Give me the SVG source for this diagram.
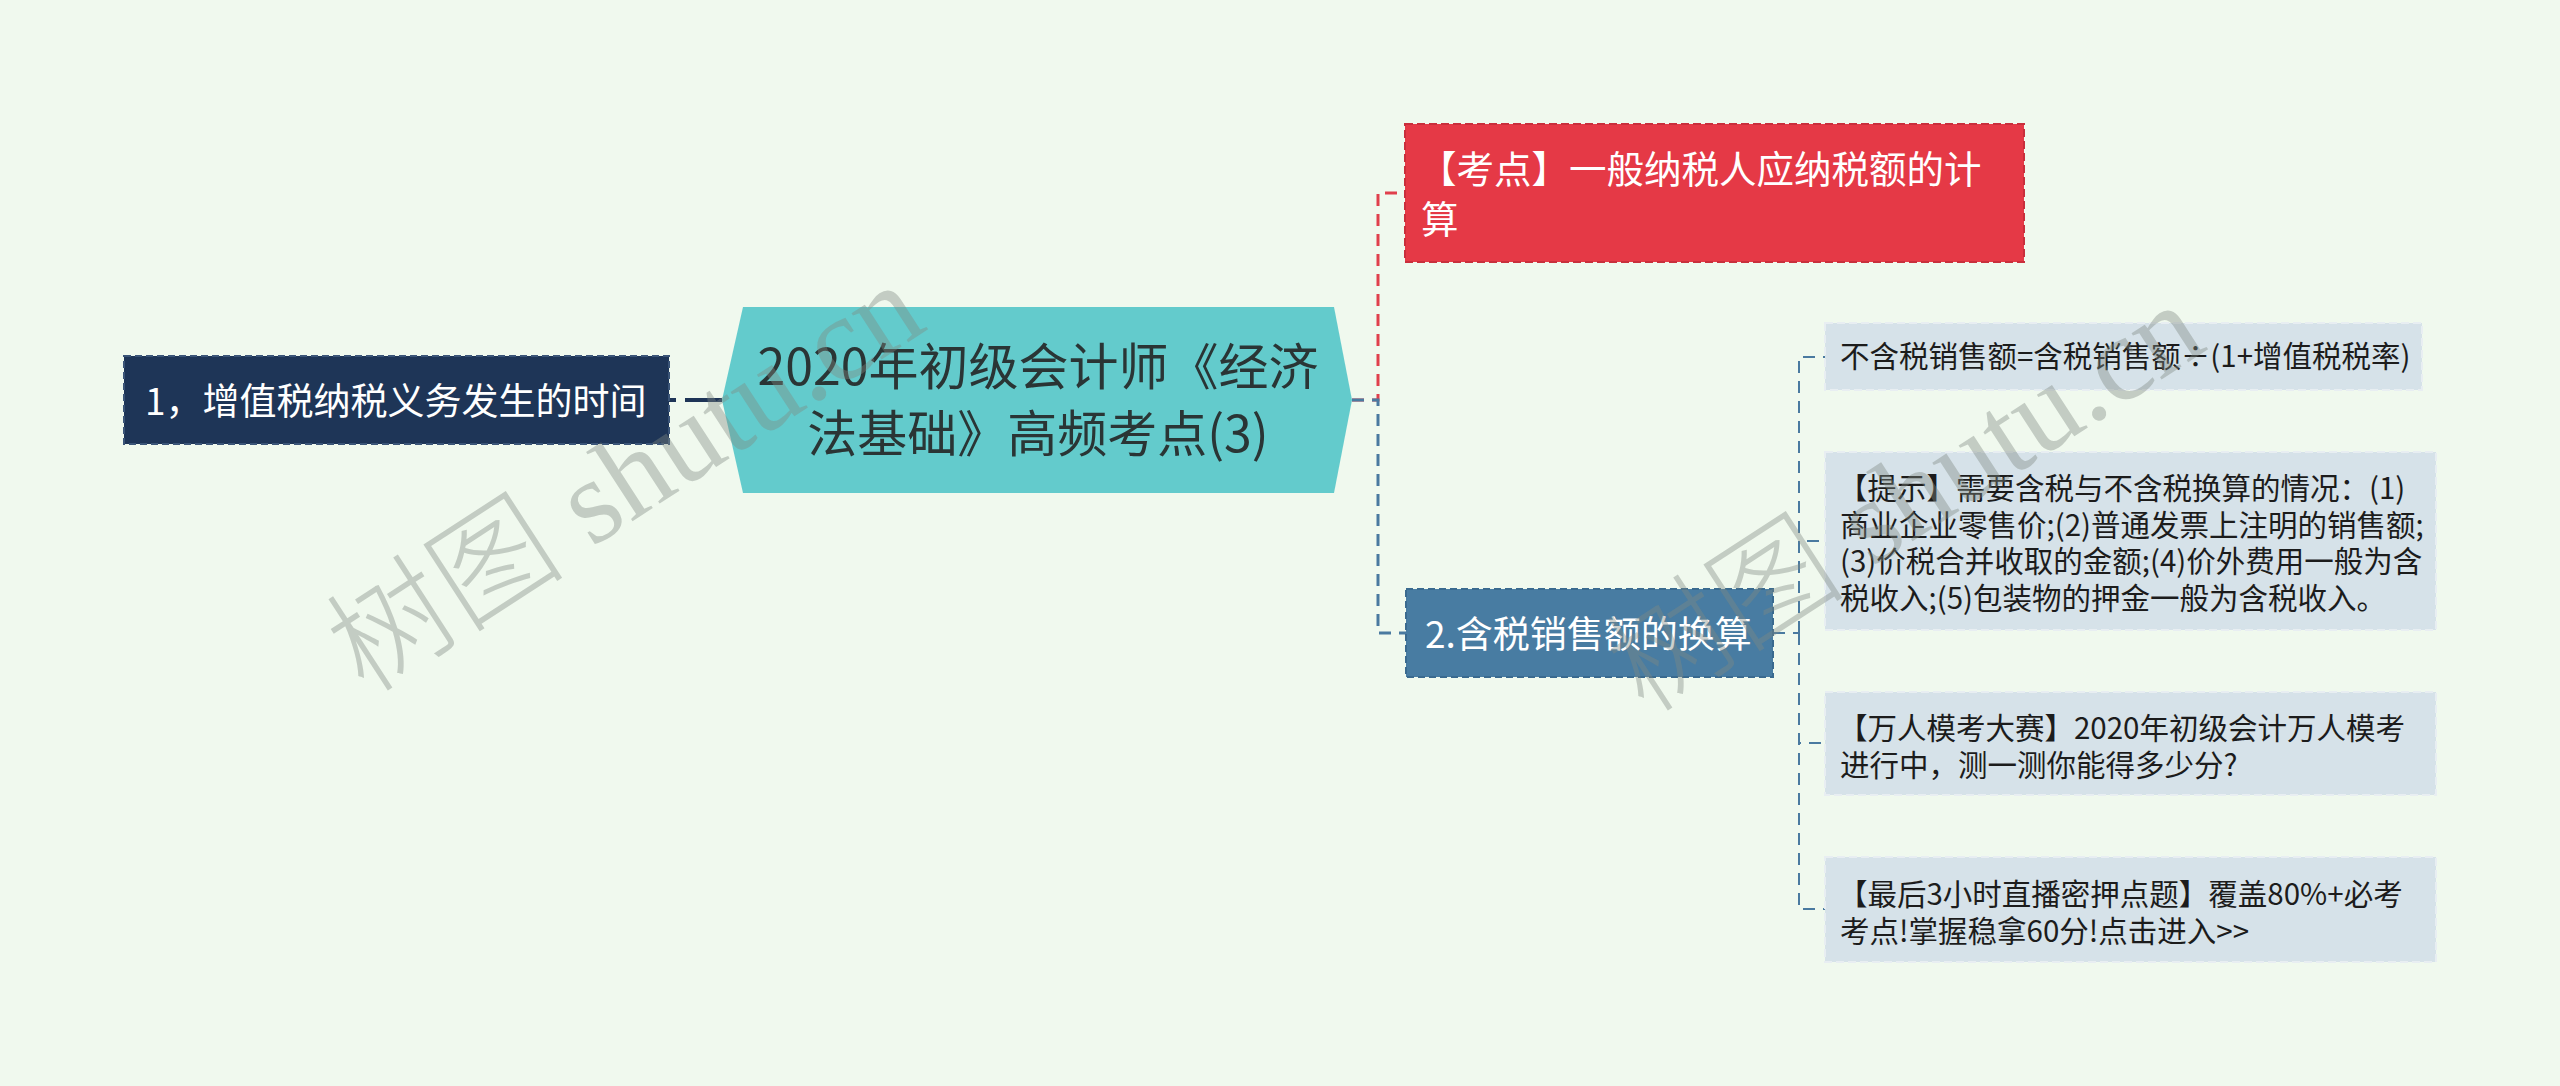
<svg xmlns="http://www.w3.org/2000/svg" width="2560" height="1086" viewBox="0 0 2560 1086">
<style>
text{font-family:"Noto Sans CJK SC","Noto Sans",sans-serif}
.conn{fill:none;stroke-width:3;stroke-dasharray:12 8}
.child rect{fill:#d6e2e9;stroke:#e8eef2;stroke-width:2;stroke-dasharray:8 4}
.child text{font-size:29.5px;fill:#1c1c1c}
.wm{fill:#7f8a82;fill-opacity:0.4;font-size:120px}
</style>
<rect width="2560" height="1086" fill="#f0f9ee"/>
<g id="connectors">
<path d="M669,400 H722" fill="none" stroke="#1e3557" stroke-width="4" stroke-dasharray="7 9 40 0"/>
<path class="conn" d="M1352,400 H1378 V193 H1405" stroke="#e0404c"/>
<path class="conn" d="M1352,400 H1378 V633 H1406" stroke="#4a7aa0"/>
<g class="conn" stroke="#4a7aa0" style="stroke-width:2">
<path d="M1773,633 H1799"/>
<path d="M1799,633 V357 H1825"/>
<path d="M1799,633 V541 H1825"/>
<path d="M1799,633 V743 H1825"/>
<path d="M1799,633 V909 H1825"/>
</g>
</g>
<g id="left-node">
<rect x="124" y="356" width="545" height="88" fill="#1e3557" stroke="#3b5578" stroke-width="2" stroke-dasharray="7 4"/>
<text x="145" y="415" font-size="37" fill="#ffffff">1，增值税纳税义务发生的时间</text>
</g>
<g id="root">
<polygon points="743,307 1334,307 1352,400 1334,493 743,493 722,400" fill="#63cbcc"/>
<text font-size="50" fill="#2a3535" text-anchor="middle"><tspan x="1038" y="385">2020年初级会计师《经济</tspan><tspan x="1038" y="452">法基础》高频考点(3)</tspan></text>
</g>
<g id="red-node">
<rect x="1405" y="124" width="619" height="138" fill="#e53946" stroke="#c92f3c" stroke-width="2" stroke-dasharray="8 4"/>
<text font-size="37.5" fill="#ffffff"><tspan x="1419" y="183">【考点】一般纳税人应纳税额的计</tspan><tspan x="1421" y="233">算</tspan></text>
</g>
<g id="blue-node">
<rect x="1406" y="589" width="367" height="88" fill="#487ca2" stroke="#3a6a8f" stroke-width="2" stroke-dasharray="7 4"/>
<text x="1425" y="648" font-size="37" fill="#ffffff">2.含税销售额的换算</text>
</g>
<g id="child1" class="child">
<rect x="1825" y="323" width="597" height="67"/>
<text x="1840" y="367">不含税销售额=含税销售额÷(1+增值税税率)</text>
</g>
<g id="child2" class="child">
<rect x="1825" y="452" width="611" height="178"/>
<text><tspan x="1838" y="499">【提示】需要含税与不含税换算的情况：(1)</tspan><tspan x="1840" y="536">商业企业零售价;(2)普通发票上注明的销售额;</tspan><tspan x="1840" y="572">(3)价税合并收取的金额;(4)价外费用一般为含</tspan><tspan x="1840" y="609">税收入;(5)包装物的押金一般为含税收入。</tspan></text>
</g>
<g id="child3" class="child">
<rect x="1825" y="692" width="611" height="103"/>
<text><tspan x="1838" y="739">【万人模考大赛】2020年初级会计万人模考</tspan><tspan x="1840" y="776">进行中，测一测你能得多少分?</tspan></text>
</g>
<g id="child4" class="child">
<rect x="1825" y="857" width="611" height="105"/>
<text><tspan x="1838" y="905">【最后3小时直播密押点题】覆盖80%+必考</tspan><tspan x="1840" y="942">考点!掌握稳拿60分!点击进入&gt;&gt;</tspan></text>
</g>
<g id="watermarks">
<text class="wm" transform="translate(365,695) rotate(-33)"><tspan font-weight="300">树图</tspan><tspan style="font-family:'Liberation Serif',serif"> shutu.cn</tspan></text>
<text class="wm" transform="translate(1645,715) rotate(-33)"><tspan font-weight="300">树图</tspan><tspan style="font-family:'Liberation Serif',serif"> shutu.cn</tspan></text>
</g>
</svg>
